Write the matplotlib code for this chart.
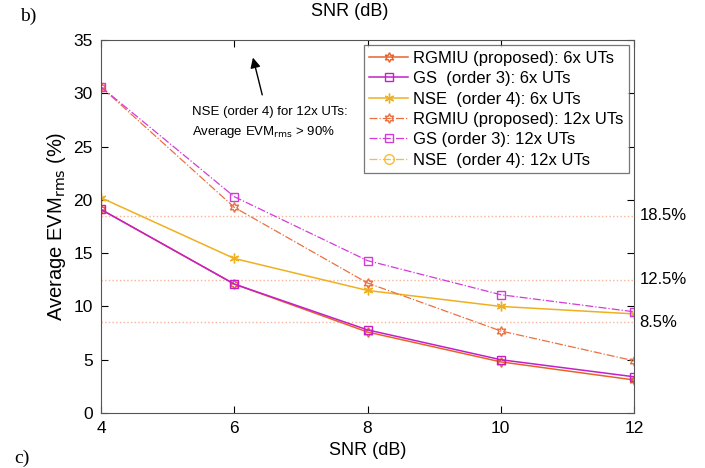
import matplotlib.pyplot as plt

plt.rcParams['font.family'] = ['Liberation Sans', 'DejaVu Sans']

snr = [4, 6, 8, 10, 12]
rgmiu_6x = [19.1, 12.1, 7.6, 4.8, 3.1]
gs_6x = [19.1, 12.1, 7.8, 5.0, 3.4]
nse_6x = [20.2, 14.5, 11.5, 10.0, 9.3]
rgmiu_12x = [30.6, 19.3, 12.2, 7.7, 4.9]
gs_12x = [30.6, 20.3, 14.3, 11.1, 9.5]
# NSE with 12x UTs stays above 90 %, outside the y range
nse_12x = [92.0, 91.5, 91.0, 90.8, 90.5]
ref_levels = [18.5, 12.5, 8.5]
ref_labels = ['18.5%', '12.5%', '8.5%']

hexagram = (6, 1, 0)
asterisk = (6, 2, 0)

fig = plt.figure(figsize=(7.05, 4.68), dpi=100)
ax = fig.add_axes([0.1433, 0.1175, 0.756, 0.797])

for lvl in ref_levels:
    ax.axhline(lvl, color='#f6b49a', ls=':', lw=1, zorder=1)

ax.plot(snr, rgmiu_6x, '-', color='#e5632b', marker=hexagram, mfc='none', ms=7, lw=1.1,
        label='RGMIU (proposed): 6x UTs')
ax.plot(snr, gs_6x, '-', color='#c51fc8', marker='s', mfc='none', ms=6, lw=1.1,
        label='GS  (order 3): 6x UTs')
ax.plot(snr, nse_6x, '-', color='#efb020', marker=asterisk, ms=7, lw=1.1,
        label='NSE  (order 4): 6x UTs')
ax.plot(snr, rgmiu_12x, '-.', color='#ec7040', marker=hexagram, mfc='none', ms=7, lw=0.9,
        label='RGMIU (proposed): 12x UTs')
ax.plot(snr, gs_12x, '-.', color='#d43ad8', marker='s', mfc='none', ms=6, lw=0.9,
        label='GS (order 3): 12x UTs')
ax.plot(snr, nse_12x, '-.', color='#f4be3c', marker='o', mfc='none', ms=7, lw=0.9,
        label='NSE  (order 4): 12x UTs')

ax.set_xlim(4, 12)
ax.set_ylim(0, 35)
ax.set_xticks(snr)
ax.set_yticks(range(0, 36, 5))
ax.tick_params(direction='in', top=True, right=True, labelsize=12.5, length=5, pad=6)
for s in ax.spines.values():
    s.set_color('#555555')
ax.set_xlabel('SNR (dB)', fontsize=13, labelpad=4)
ax.set_ylabel('Average EVM$_{\\mathrm{rms}}$ (%)', fontsize=14.5, labelpad=4)

for lvl, txt in zip(ref_levels, ref_labels):
    ax.text(12.08, lvl, txt, fontsize=12, va='center', ha='left', clip_on=False)

ax.annotate('', xy=(6.27, 33.6), xytext=(6.43, 29.6),
            arrowprops=dict(arrowstyle='-|>', color='black', lw=1, mutation_scale=15))
ax.text(5.37, 27.2, 'NSE (order 4) for 12x UTs:\nAverage EVM$_{\\mathrm{rms}}$ > 90%',
        fontsize=9.5, va='center', ha='left', linespacing=1.5)

leg = ax.legend(loc='upper right', fontsize=12, frameon=True, fancybox=False,
                edgecolor='#555555', borderpad=0.35, labelspacing=0.32,
                handlelength=2.3, handletextpad=0.3, borderaxespad=0.3)
leg.get_frame().set_linewidth(0.9)

fig.text(0.496, 0.975, 'SNR (dB)', fontsize=13, ha='center', va='center')
fig.text(0.028, 0.965, 'b)', fontsize=14, family='Liberation Serif', ha='left', va='center')
fig.text(0.02, 0.002, 'c)', fontsize=14, family='Liberation Serif', ha='left', va='bottom')

fig.savefig('out.png', dpi=100)
